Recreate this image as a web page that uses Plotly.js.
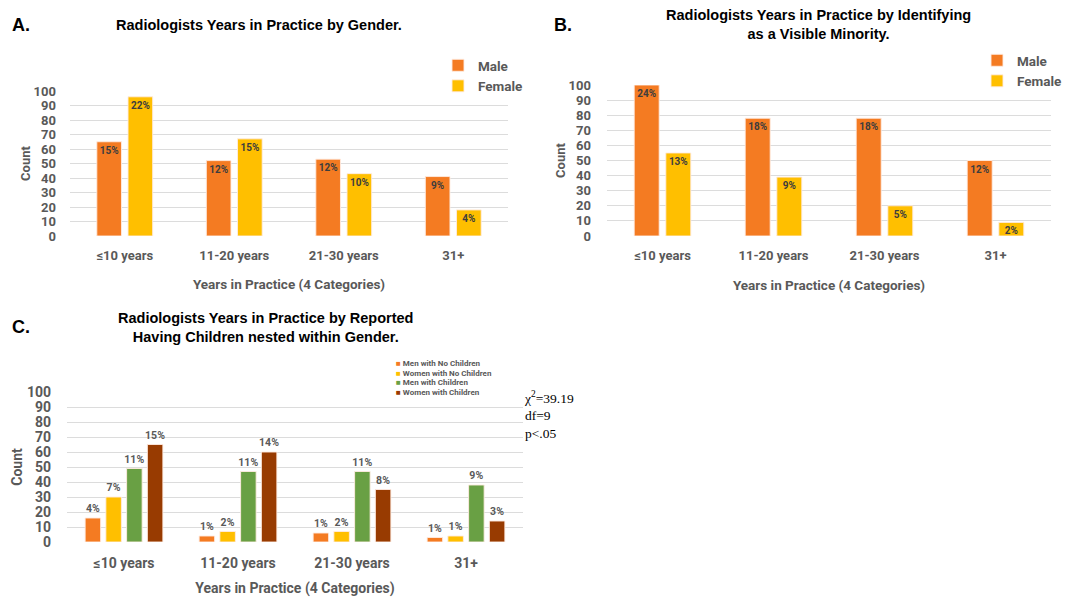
<!DOCTYPE html>
<html>
<head>
<meta charset="utf-8">
<script src="https://cdn.plot.ly/plotly-3.0.1.min.js"></script>
<style>html,body{margin:0;padding:0;background:#fff;}#chart{width:1066px;height:597px;}</style>
</head>
<body>
<div id="chart"></div>
<script>
// ---------- DATA ----------
const categories = ["≤10 years", "11-20 years", "21-30 years", "31+"];

// Panel A: by gender
const genderMale = [65, 52, 53, 41];
const genderFemale = [96, 67, 43, 18];
const genderMalePct = ["15%", "12%", "12%", "9%"];
const genderFemalePct = ["22%", "15%", "10%", "4%"];

// Panel B: visible minority
const minorityMale = [100, 78, 78, 50];
const minorityFemale = [55, 39, 20, 9];
const minorityMalePct = ["24%", "18%", "18%", "12%"];
const minorityFemalePct = ["13%", "9%", "5%", "2%"];

// Panel C: children nested within gender
const childSeriesNames = ["Men with No Children", "Women with No Children", "Men with Children", "Women with Children"];
const menNoChildren = [16, 4, 6, 3];
const womenNoChildren = [30, 7, 7, 4];
const menWithChildren = [49, 47, 47, 38];
const womenWithChildren = [65, 60, 35, 14];
const menNoChildrenPct = ["4%", "1%", "1%", "1%"];
const womenNoChildrenPct = ["7%", "2%", "2%", "1%"];
const menWithChildrenPct = ["11%", "11%", "11%", "9%"];
const womenWithChildrenPct = ["15%", "14%", "8%", "3%"];

const yTicks = [0, 10, 20, 30, 40, 50, 60, 70, 80, 90, 100];
const statsLines = ["χ<sup>2</sup>=39.19", "df=9", "p<.05"];

// ---------- STYLE ----------
const W = 1066, H = 597;
const px = v => v / W;
const py = v => 1 - v / H;
const ORANGE = "#F47B22", YELLOW = "#FFBF00", GREEN = "#69A044", BROWN = "#983B01";
const GRAY = "#595959";
const FONT = "Roboto, sans-serif";
const titleFont = "'Liberation Sans', Arial, sans-serif";

const edge = {color: "rgba(255,235,225,0.9)", width: 1};
const insideText = {family: FONT, size: 10, color: "#3d3d3d", weight: "bold"};
const outsideText = {family: FONT, size: 10.5, color: GRAY, weight: "bold"};

function gBar(y, text, color, name, xa, ya, leg) {
  return {
    type: "bar", x: categories, y: y, name: name, text: text,
    xaxis: xa, yaxis: ya, legend: leg,
    marker: {color: color, line: edge},
    textposition: "inside", insidetextanchor: "end", textangle: 0,
    constraintext: "none", insidetextfont: insideText, textfont: insideText,
    hoverinfo: "skip"
  };
}

const childData = [menNoChildren, womenNoChildren, menWithChildren, womenWithChildren];
const childPct = [menNoChildrenPct, womenNoChildrenPct, menWithChildrenPct, womenWithChildrenPct];
const childColors = [ORANGE, YELLOW, GREEN, BROWN];
const slot = 0.182, bw = 0.136;

const traces = [
  gBar(genderMale, genderMalePct, ORANGE, "Male", "x", "y", "legend"),
  gBar(genderFemale, genderFemalePct, YELLOW, "Female", "x", "y", "legend"),
  gBar(minorityMale, minorityMalePct, ORANGE, "Male", "x2", "y2", "legend2"),
  gBar(minorityFemale, minorityFemalePct, YELLOW, "Female", "x2", "y2", "legend2")
];
childData.forEach((d, i) => {
  traces.push({
    type: "bar", x: categories, y: d, name: childSeriesNames[i], text: childPct[i],
    xaxis: "x3", yaxis: "y3", showlegend: false,
    width: bw, offset: -2 * slot + i * slot + (slot - bw) / 2,
    marker: {color: childColors[i], line: edge},
    textposition: "outside", textangle: 0, cliponaxis: false, constraintext: "none",
    outsidetextfont: outsideText, textfont: outsideText, hoverinfo: "skip"
  });
});

function xAxis(domain, anchor, size, tsize, labStand, standoff) {
  return {
    domain: domain, anchor: anchor, type: "category",
    showgrid: false, showline: false, zeroline: false, ticks: "",
    tickfont: {family: FONT, size: size, color: GRAY, weight: "bold"},
    ticklabelstandoff: labStand,
    title: {text: "Years in Practice (4 Categories)", standoff: standoff,
            font: {family: FONT, size: tsize, color: GRAY, weight: "bold"}}
  };
}
function yAxis(domain, anchor, size, labStand) {
  return {
    domain: domain, anchor: anchor, range: [0, 100], tickvals: yTicks,
    showgrid: true, gridcolor: "#dcdcdc", gridwidth: 1, zeroline: false, showline: false, ticks: "",
    tickfont: {family: FONT, size: size, color: GRAY, weight: "bold"},
    ticklabelstandoff: labStand,
    title: {text: "Count", standoff: 0, font: {family: FONT, size: size, color: GRAY, weight: "bold"}}
  };
}

const annotations = [
  {text: "A.", x: px(10), y: py(25), xanchor: "left", yanchor: "middle", font: {family: titleFont, size: 18, color: "#000", weight: "bold"}},
  {text: "Radiologists Years in Practice by Gender.", x: px(259), y: py(25), xanchor: "center", yanchor: "middle", font: {family: titleFont, size: 14.5, color: "#000", weight: "bold"}},
  {text: "B.", x: px(552), y: py(25), xanchor: "left", yanchor: "middle", font: {family: titleFont, size: 18, color: "#000", weight: "bold"}},
  {text: "Radiologists Years in Practice by Identifying<br>as a Visible Minority.", x: px(818), y: py(25), xanchor: "center", yanchor: "middle", font: {family: titleFont, size: 14.5, color: "#000", weight: "bold"}},
  {text: "C.", x: px(10), y: py(327), xanchor: "left", yanchor: "middle", font: {family: titleFont, size: 18, color: "#000", weight: "bold"}},
  {text: "Radiologists Years in Practice by Reported<br>Having Children nested within Gender.", x: px(265), y: py(327), xanchor: "center", yanchor: "middle", font: {family: titleFont, size: 14.5, color: "#000", weight: "bold"}},
  {text: statsLines.join("<br>"), x: px(522), y: py(387), xanchor: "left", yanchor: "top", align: "left", font: {family: "'Liberation Serif', 'Times New Roman', serif", size: 13.5, color: "#000"}}
];
childSeriesNames.forEach((n, i) => {
  annotations.push({
    text: '<span style="color:' + childColors[i] + '">■</span> ' + n,
    x: px(394), y: py(363.5 + i * 9.6), xanchor: "left", yanchor: "middle", align: "left",
    font: {family: FONT, size: 8, color: GRAY, weight: "bold"}
  });
});
annotations.forEach(a => { a.xref = "paper"; a.yref = "paper"; a.showarrow = false; });

const legendStyle = (x, y) => ({
  x: px(x), y: py(y), xanchor: "left", yanchor: "top", bgcolor: "rgba(0,0,0,0)",
  font: {family: FONT, size: 13.5, color: GRAY, weight: "bold"},
  tracegroupgap: 0, itemwidth: 30, traceorder: "normal"
});

const layout = {
  width: W, height: H, margin: {l: 0, r: 0, t: 0, b: 0, autoexpand: false},
  paper_bgcolor: "#fff", plot_bgcolor: "#fff",
  barmode: "group", bargap: 0.43, bargroupgap: 0.21,
  showlegend: true,
  legend: legendStyle(438, 50),
  legend2: legendStyle(977, 45),
  xaxis: xAxis([px(70), px(508)], "y", 13, 13.5, 10, 17),
  yaxis: yAxis([py(236), py(91)], "x", 13, 13),
  xaxis2: xAxis([px(607), px(1051)], "y2", 13, 13.5, 10, 18),
  yaxis2: yAxis([py(236), py(85)], "x2", 13, 15),
  xaxis3: xAxis([px(67), px(523)], "y3", 14, 14, 11, 21),
  yaxis3: yAxis([py(542), py(392)], "x3", 14, 15),
  annotations: annotations
};

Plotly.newPlot("chart", traces, layout, {staticPlot: true, displayModeBar: false});
</script>
</body>
</html>
